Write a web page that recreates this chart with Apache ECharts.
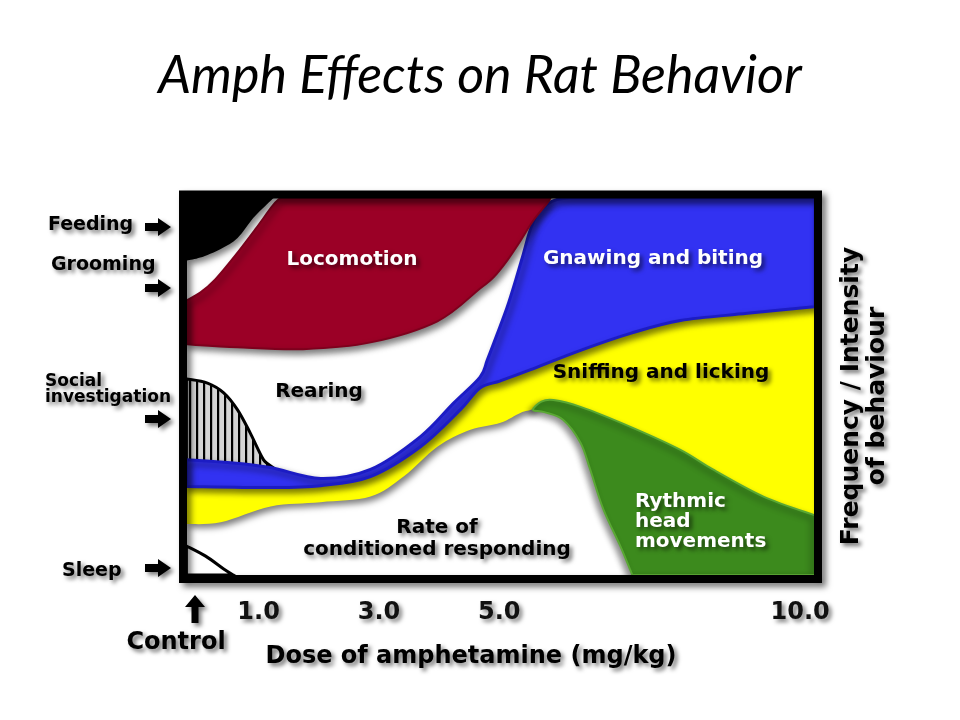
<!DOCTYPE html>
<html><head><meta charset="utf-8">
<script src="https://cdn.jsdelivr.net/npm/echarts@6.0.0/dist/echarts.min.js"></script>
<style>html,body{margin:0;padding:0;background:#fff}#c{width:960px;height:720px}</style>
</head><body><div id="c"></div>
<script>
// ---- data (x = dose of amphetamine mg/kg, y = frequency / intensity 0..100) ----
const doseTicks = [1, 3, 5, 10];
const feeding = [[-0.2,100],[-0.2,83.4],[0.03,84.2],[0.37,86.5],[0.65,89.4],[0.91,94.7],[1.11,97.9],[1.25,100]];
const locomotion = [[-0.2,61.2],[-0.2,72.8],[0.03,74.9],[0.28,78.4],[0.61,84.7],[0.95,91.8],[1.23,97.9],[1.36,100],
  [5.85,100],[5.80,98.7],[5.56,93.9],[5.35,88.6],[5.13,83.4],[4.90,78.9],[4.68,76.0],[3.97,67.3],[2.86,61.7],[1.74,59.9],[0.65,60.4]];
const gnawing = [[-0.2,30.6],[0.53,29.8],[1.20,28.5],[2.03,25.6],[2.86,28.0],[3.69,36.7],[4.24,45.6],[4.68,52.5],[4.80,57.0],
  [4.97,64.1],[5.13,71.0],[5.27,78.1],[5.40,85.2],[5.51,91.3],[5.63,95.8],[5.80,98.4],[5.96,99.6],[6.15,100],[10.25,100],
  [10.25,71.2],[9.12,69.4],[8.01,67.5],[7.18,64.1],[6.35,59.6],[5.51,54.4],[5.02,51.5],[4.68,49.6],[4.35,43.8],[3.69,34.0],
  [2.86,26.1],[2.03,23.7],[1.20,23.2],[-0.2,23.5]];
const sniffing = [[-0.2,23.5],[1.20,23.2],[2.03,23.7],[2.86,26.1],[3.69,34.0],[4.35,43.8],[4.68,49.6],[5.02,51.5],[5.51,54.4],
  [6.35,59.6],[7.18,64.1],[8.01,67.5],[9.12,69.4],[10.25,71.2],[10.25,15.8],[9.39,20.8],[8.55,28.0],[8.01,33.2],[7.18,39.3],
  [6.35,44.6],[5.90,46.4],[5.70,46.0],[5.56,44.0],[5.35,43.0],[5.02,40.4],[4.52,38.5],[3.97,34.0],[3.41,26.1],[2.86,20.8],
  [2.03,19.3],[1.20,18.2],[0.37,14.0],[-0.2,13.5]];
const rhythmic = [[5.56,43.8],[5.70,46.0],[5.90,46.4],[6.35,44.6],[7.18,39.3],[8.01,33.2],[8.55,28.0],[9.39,20.8],[10.25,15.8],
  [10.25,0],[7.21,0],[7.01,7.7],[6.73,17.4],[6.51,28.0],[6.35,35.1],[6.06,41.2],[5.75,43.2]];
const social = [[-0.2,52.0],[0.15,50.9],[0.42,48.3],[0.65,43.8],[0.86,37.7],[1.08,30.6],[1.30,26.0],[-0.2,26.0]];
const sleep = [[-0.2,7.7],[0.12,5.0],[0.42,1.6],[0.58,0],[-0.2,0]];

const X_MIN = -0.19, X_MAX = 10.23;

// hatch pattern for social investigation
const hatch = document.createElement('canvas');
hatch.width = 7; hatch.height = 4;
(function(){ const c = hatch.getContext('2d'); c.fillStyle = '#d4d4d4'; c.fillRect(0,0,7,4);
  c.fillStyle = '#aaa'; c.fillRect(2,0,1,4); c.fillStyle = '#000'; c.fillRect(0,0,2,4); })();

function smoothPath(pts, sharp) {
  const n = pts.length;
  const f = p => p[0].toFixed(2) + ',' + p[1].toFixed(2);
  let d = 'M' + f(pts[0]);
  for (let i = 0; i < n; i++) {
    const p0 = pts[(i - 1 + n) % n], p1 = pts[i], p2 = pts[(i + 1) % n], p3 = pts[(i + 2) % n];
    const a = sharp[i] ? p1 : p0;
    const b = sharp[(i + 1) % n] ? p2 : p3;
    const c1 = [p1[0] + (p2[0] - a[0]) / 6, p1[1] + (p2[1] - a[1]) / 6];
    const c2 = [p2[0] - (b[0] - p1[0]) / 6, p2[1] - (b[1] - p1[1]) / 6];
    d += ' C' + f(c1) + ' ' + f(c2) + ' ' + f(p2);
  }
  return d + ' Z';
}

const SH = { shadowBlur: 6, shadowColor: 'rgba(0,0,0,0.5)', shadowOffsetX: 3, shadowOffsetY: 4 };

function region(name, pts, style) {
  return {
    type: 'custom', name, data: pts, silent: true, clip: true, animation: false,
    renderItem(params, api) {
      if (params.dataIndexInside !== 0) return null;
      const n = params.dataInsideLength, px = [], sharp = [];
      for (let i = 0; i < n; i++) {
        const x = api.value(0, i), y = api.value(1, i);
        px.push(api.coord([x, y]));
        sharp.push(x <= X_MIN || x >= X_MAX || y <= 0 || y >= 100);
      }
      return { type: 'path', shape: { pathData: smoothPath(px, sharp) }, style: Object.assign({}, style) };
    }
  };
}

const F = 'DejaVu Sans';
const tsh = { textShadowColor: 'rgba(0,0,0,0.55)', textShadowBlur: 4, textShadowOffsetX: 3, textShadowOffsetY: 3 };
function txt(text, x, y, size, color, align, extra, rotation) {
  return { type: 'text', x, y, z: 110, silent: true, rotation: rotation || 0,
    style: Object.assign({ text, font: 'bold ' + size + 'px "' + F + '"', fill: color, align: align || 'center', verticalAlign: 'middle' }, tsh, extra || {}) };
}
const rArrow = [[0,-4],[13,-4],[13,-9],[26,0],[13,9],[13,4],[0,4]];
function arrowRight(x, y) {
  return { type: 'polygon', x, y, z: 110, silent: true, shape: { points: rArrow },
    style: { fill: '#000', shadowBlur: 4, shadowColor: 'rgba(0,0,0,0.5)', shadowOffsetX: 3, shadowOffsetY: 3 } };
}

const chart = echarts.init(document.getElementById('c'));
chart.setOption({
  animation: false,
  backgroundColor: '#fff',
  grid: { left: 187, top: 198, right: 146, bottom: 145, outerBoundsMode: 'none' },
  xAxis: { type: 'value', min: X_MIN, max: X_MAX,
    axisLine: { show: false }, axisTick: { show: false }, splitLine: { show: false },
    axisLabel: { customValues: doseTicks, formatter: v => v.toFixed(1), margin: 26,
      fontFamily: F, fontWeight: 'bold', fontSize: 24, color: '#111',
      textShadowColor: 'rgba(0,0,0,0.5)', textShadowBlur: 4, textShadowOffsetX: 3, textShadowOffsetY: 3 } },
  yAxis: { type: 'value', min: 0, max: 100, show: false },
  series: [
    region('Social investigation', social, { fill: { type: 'pattern', image: hatch, repeat: 'repeat' }, stroke: '#000', lineWidth: 3 }),
    region('Sleep', sleep, { fill: '#fff', stroke: '#000', lineWidth: 3 }),
    region('Sniffing and licking', sniffing, Object.assign({ fill: '#ffff00' }, SH)),
    region('Gnawing and biting', gnawing, Object.assign({ fill: '#3232f2', stroke: '#1c1cc4', lineWidth: 3 }, SH)),
    region('Rythmic head movements', rhythmic, { fill: '#3c8a1d', stroke: '#5aa834', lineWidth: 2,
      shadowBlur: 6, shadowColor: 'rgba(0,0,0,0.45)', shadowOffsetX: -3, shadowOffsetY: 3 }),
    region('Locomotion', locomotion, Object.assign({ fill: '#9b0026', stroke: '#7e001d', lineWidth: 2 }, SH)),
    region('Feeding', feeding, Object.assign({ fill: '#000' }, SH))
  ],
  graphic: [
    { type: 'text', x: 480, y: 76, z: 110, silent: true,
      style: { text: 'Amph Effects on Rat Behavior', font: 'italic 52px Lato', fill: '#000', align: 'center', verticalAlign: 'middle' } },
    { type: 'rect', z: 105, silent: true, shape: { x: 183, y: 194.5, width: 635, height: 384.5 },
      style: { fill: 'none', stroke: '#000', lineWidth: 8, shadowBlur: 6, shadowColor: 'rgba(0,0,0,0.55)', shadowOffsetX: 4, shadowOffsetY: 4 } },
    txt('Locomotion', 352, 260, 20, '#fff'),
    txt('Gnawing and biting', 653, 259, 20, '#fff'),
    txt('Rearing', 319, 392, 20, '#000'),
    txt('Sniffing and licking', 661, 373, 20, '#000'),
    txt('Rate of\nconditioned responding', 437, 539, 20, '#000', 'center', { lineHeight: 22 }),
    txt('Rythmic\nhead\nmovements', 635, 522, 20, '#fff', 'left', { lineHeight: 20 }),
    txt('Feeding', 48, 225, 19, '#000', 'left'),
    txt('Grooming', 51, 265, 19, '#000', 'left'),
    txt('Social\ninvestigation', 45, 390, 17, '#000', 'left', { lineHeight: 16 }),
    txt('Sleep', 62, 571, 19, '#000', 'left'),
    arrowRight(145, 227), arrowRight(145, 288), arrowRight(145, 419), arrowRight(145, 568),
    { type: 'polygon', x: 195, y: 595, z: 110, silent: true,
      shape: { points: [[0,0],[10,12],[3.5,12],[3.5,28],[-3.5,28],[-3.5,12],[-10,12]] },
      style: { fill: '#000', shadowBlur: 4, shadowColor: 'rgba(0,0,0,0.5)', shadowOffsetX: 3, shadowOffsetY: 3 } },
    txt('Control', 176, 643, 24, '#000'),
    txt('Dose of amphetamine (mg/kg)', 471, 657, 24, '#000'),
    txt('Frequency / Intensity\nof behaviour', 864, 396, 25, '#000', 'center', { lineHeight: 26 }, Math.PI / 2)
  ]
});
</script>
</body></html>
